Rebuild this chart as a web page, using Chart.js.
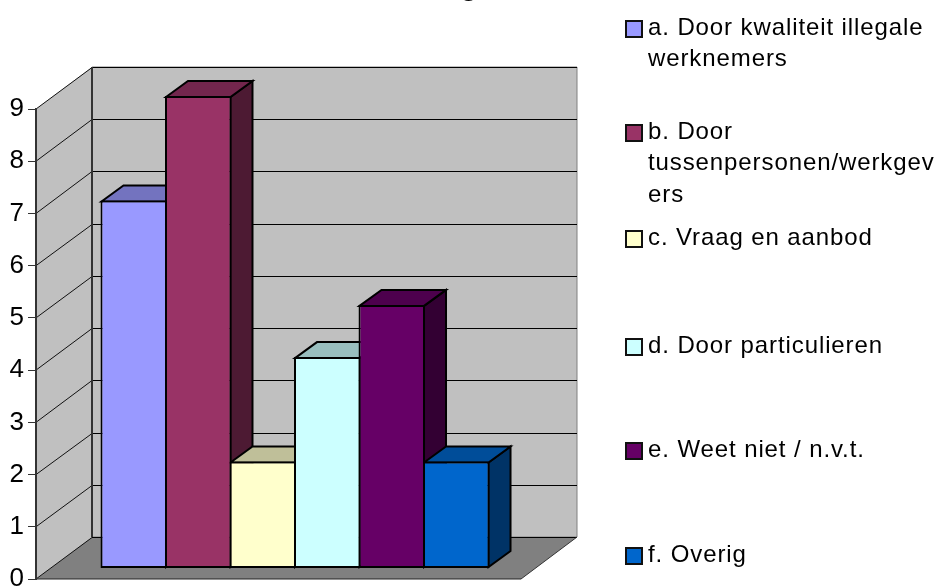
<!DOCTYPE html>
<html>
<head>
<meta charset="utf-8">
<style>
  html, body { margin: 0; padding: 0; background: #fff; overflow: hidden; }
  #wrap { position: relative; width: 937px; height: 586px; }
</style>
<script src="https://cdn.jsdelivr.net/npm/chart.js@4/dist/chart.umd.min.js"></script>
</head>
<body>
<div id="wrap"><canvas id="chart"></canvas></div>
<script>
const categories = [""];
const seriesNames = [
  ["a. Door kwaliteit illegale", "werknemers"],
  ["b. Door", "tussenpersonen/werkgev", "ers"],
  ["c. Vraag en aanbod"],
  ["d. Door particulieren"],
  ["e. Weet niet / n.v.t."],
  ["f. Overig"],
];
const seriesValues = [7, 9, 2, 4, 5, 2];
const seriesColors = ["#9999FF", "#993366", "#FFFFCC", "#CCFFFF", "#660066", "#0066CC"];
const titleFragment = "g";

// depth of the box and of the bars, in px
const boxDepth = { x: 56, y: -42 };
const barShift = { x: 16.5, y: -13 };
const barDepth = { x: 22, y: -16 };
const legendTops = [21, 125, 231, 339, 443, 548];

const font = '"Liberation Sans", Arial, sans-serif';

function shade(hex, f) {
  const n = parseInt(hex.slice(1), 16);
  const c = [n >> 16, (n >> 8) & 255, n & 255].map((v) => Math.round(v * f));
  return `rgb(${c[0]},${c[1]},${c[2]})`;
}

function poly(ctx, pts, fill, stroke, lw) {
  ctx.beginPath();
  pts.forEach((p, i) => (i ? ctx.lineTo(p[0], p[1]) : ctx.moveTo(p[0], p[1])));
  ctx.closePath();
  if (fill) {
    ctx.fillStyle = fill;
    ctx.fill();
  }
  if (stroke) {
    ctx.strokeStyle = stroke;
    ctx.lineWidth = lw;
    ctx.stroke();
  }
}

function line(ctx, x1, y1, x2, y2, color, lw) {
  ctx.beginPath();
  ctx.moveTo(x1, y1);
  ctx.lineTo(x2, y2);
  ctx.strokeStyle = color;
  ctx.lineWidth = lw;
  ctx.stroke();
}

const boxPlugin = {
  id: "box3d",
  beforeDraw(chart) {
    const { ctx, scales } = chart;
    const x = scales.x, y = scales.y;
    const dx = boxDepth.x, dy = boxDepth.y;
    const y0 = y.getPixelForValue(0), yMax = y.getPixelForValue(9);
    ctx.save();
    // left wall, back wall, floor
    poly(ctx, [[x.left, y0], [x.left + dx, y0 + dy], [x.left + dx, yMax + dy], [x.left, yMax]], "#C0C0C0");
    poly(ctx, [[x.left + dx, y0 + dy], [x.right + dx, y0 + dy], [x.right + dx, yMax + dy], [x.left + dx, yMax + dy]], "#C0C0C0", "#808080", 1);
    poly(ctx, [[x.left, y0], [x.right, y0], [x.right + dx, y0 + dy], [x.left + dx, y0 + dy]], "#808080");
    // grid lines follow the y ticks
    y.ticks.forEach((t) => {
      const py = y.getPixelForValue(t.value);
      const back = Math.round(py + dy) + 0.5;
      line(ctx, x.left, py, x.left + dx, back, "#111", 1);
      line(ctx, x.left + dx, back, x.right + dx, back, "#000", 1);
    });
    line(ctx, x.right, y0, x.right + dx, y0 + dy, "#333", 1);
    line(ctx, x.left, y0, x.right, y0, "#222", 1);
    line(ctx, x.left + dx, yMax + dy, x.left + dx, y0 + dy, "#333", 2);
    ctx.restore();
  },
  beforeDatasetsDraw(chart) {
    const { ctx } = chart;
    ctx.save();
    ctx.translate(barShift.x, barShift.y);
    // tops and sides first, left to right, the fronts come after
    // the bar border is inside the element, so the outlines go 1px in
    seriesValues.forEach((v, i) => {
      const bar = chart.getDatasetMeta(i).data[0];
      const l = bar.x - bar.width / 2 + 1, r = bar.x + bar.width / 2 - 1;
      const t = bar.y + 1, b = bar.base - 1;
      const ax = barDepth.x, ay = barDepth.y;
      poly(ctx, [[r, t], [r + ax, t + ay], [r + ax, b + ay], [r, b]], shade(seriesColors[i], 0.5), "#000", 2);
      poly(ctx, [[l, t], [l + ax, t + ay], [r + ax, t + ay], [r, t]], shade(seriesColors[i], 0.75), "#000", 2);
    });
  },
  afterDatasetsDraw(chart) {
    chart.ctx.restore();
  },
  afterDraw(chart) {
    const { ctx } = chart;
    ctx.save();
    // only the bottom of the title shows in the window
    ctx.fillStyle = "#000";
    ctx.font = `bold 29px ${font}`;
    ctx.textAlign = "center";
    ctx.textBaseline = "alphabetic";
    ctx.fillText(titleFragment, 469, -5);
    // legend
    ctx.font = `24px ${font}`;
    ctx.letterSpacing = "0.9px";
    ctx.textAlign = "left";
    seriesNames.forEach((lines, i) => {
      const top = legendTops[i];
      ctx.fillStyle = seriesColors[i];
      ctx.fillRect(626, top, 16, 16);
      ctx.strokeStyle = "#111";
      ctx.lineWidth = 2;
      ctx.strokeRect(626, top, 16, 16);
      ctx.fillStyle = "#000";
      lines.forEach((txt, k) => ctx.fillText(txt, 648, top + 13.5 + k * 31.5));
    });
    ctx.restore();
  },
};

const chart = new Chart(document.getElementById("chart"), {
  type: "bar",
  data: {
    labels: categories,
    datasets: seriesValues.map((v, i) => ({
      label: seriesNames[i].join(" "),
      data: [v],
      base: -0.04,
      backgroundColor: seriesColors[i],
      borderColor: "#000",
      borderWidth: 2,
      borderSkipped: false,
      inflateAmount: 0,
      clip: false,
      categoryPercentage: 0.798,
      barPercentage: 1.031,
    })),
  },
  plugins: [boxPlugin],
  options: {
    responsive: true,
    maintainAspectRatio: false,
    animation: false,
    layout: { padding: { left: 0, right: 416, top: 109, bottom: 7 } },
    plugins: { legend: { display: false }, title: { display: false }, tooltip: { enabled: false } },
    scales: {
      x: { display: false },
      y: {
        min: 0,
        max: 9,
        ticks: { stepSize: 1, color: "#000", padding: 4, font: { family: font, size: 26 } },
        grid: { drawOnChartArea: false, color: "#333", tickLength: 8 },
        border: { color: "#333", width: 2 },
        afterFit(s) {
          s.width = 36;
          s.paddingTop = 0;
          s.paddingBottom = 0;
        },
      },
    },
  },
});
</script>
</body>
</html>
